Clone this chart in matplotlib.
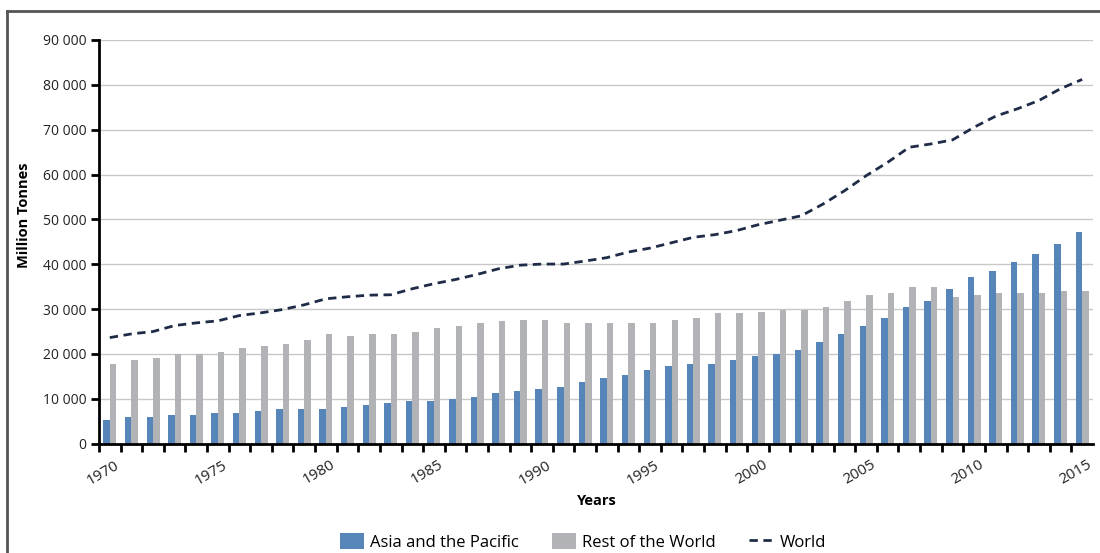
import matplotlib
matplotlib.use("Agg")
import matplotlib.pyplot as plt
from matplotlib.lines import Line2D
import numpy as np

plt.rcParams['font.family'] = ['Open Sans', 'DejaVu Sans']

years = list(range(1970, 2016))

# Asia and the Pacific (million tonnes)
asia = [5370, 5900, 5900, 6350, 6350, 6800, 6800, 7250, 7700, 7700,
        7700, 8140, 8650, 9100, 9480, 9480, 10000, 10450, 11270, 11790,
        12240, 12680, 13650, 14540, 15370, 16330, 17230, 17670, 17670, 18570,
        19460, 20070, 20810, 22680, 24540, 26330, 28050, 30430, 31770, 34540,
        37220, 38570, 40420, 42210, 44450, 47290]

# Rest of the World
rest = [17760, 18650, 19170, 20000, 20000, 20450, 21340, 21790, 22300, 23200,
        24540, 24090, 24540, 24540, 24990, 25880, 26330, 26850, 27290, 27670,
        27670, 26850, 26850, 26850, 26850, 26850, 27670, 28120, 29080, 29080,
        29460, 29910, 29910, 30430, 31770, 33110, 33560, 34990, 34990, 32660,
        33110, 33560, 33560, 33560, 34000, 34000]

# World total
world = [23650, 24470, 25000, 26330, 26930, 27380, 28570, 29170, 29910, 30960,
         32300, 32750, 33110, 33200, 34540, 35660, 36600, 37740, 39000, 39800,
         40040, 40040, 40720, 41470, 42730, 43600, 44800, 46000, 46600, 47500,
         48800, 49800, 50800, 53400, 56380, 59730, 62730, 66080, 66820, 67720,
         70550, 73020, 74650, 76510, 79140, 81200]

blue = '#5685ba'
grey = '#b2b3b6'
navy = '#1f2b47'

fig = plt.figure(figsize=(11, 5.53), dpi=100)
ax = fig.add_axes([0.09, 0.1977, 0.9036, 0.73])

x = np.arange(len(years))
w = 0.3
b1 = ax.bar(x - 0.15, asia, w, color=blue, label='Asia and the Pacific', zorder=2)
b2 = ax.bar(x + 0.15, rest, w, color=grey, label='Rest of the World', zorder=2)
l1, = ax.plot(x, world, color=navy, lw=2, dashes=(3, 2), label='World', zorder=3)

ax.set_xlim(-0.5, len(years) - 0.5)
ax.set_ylim(0, 90000)
yt = range(0, 90001, 10000)
ax.set_yticks(list(yt))
ax.set_yticklabels([('{:,}'.format(v)).replace(',', ' ') for v in yt], fontsize=10, color='#222222')
ax.yaxis.grid(True, color='#c8c8c8', lw=1, zorder=0)
ax.set_axisbelow(True)

# ticks between categories, labels every 5 years
ax.set_xticks(x - 0.5, minor=True)
ax.set_xticks(list(x[::5] + 0.2))
ax.set_xticklabels([str(y) for y in years[::5]], rotation=30, ha='right',
                   rotation_mode='anchor', fontsize=11, color='#222222')
ax.tick_params(axis='x', which='major', length=0, pad=10)
ax.tick_params(axis='x', which='minor', length=6, width=2, color='black')
ax.tick_params(axis='y', length=6, width=2, color='black', pad=3)

for s in ['top', 'right']:
    ax.spines[s].set_visible(False)
ax.spines['left'].set_linewidth(2)
ax.spines['bottom'].set_linewidth(2)

ax.set_ylabel('Million Tonnes', fontsize=10.5, fontweight='bold')
ax.yaxis.set_label_coords(-0.068, 0.567)
ax.set_xlabel('Years', fontsize=10.5, fontweight='bold')
ax.xaxis.set_label_coords(0.501, -0.125)

fig.legend([b1, b2, l1], ['Asia and the Pacific', 'Rest of the World', 'World'],
           loc='center', bbox_to_anchor=(0.53, 0.02), ncol=3, frameon=False,
           fontsize=12, handlelength=1.4, handleheight=1.1, columnspacing=2.0,
           handletextpad=0.4)

# frame around the figure (top and left visible)
fig.add_artist(Line2D([7 / 1100, 7 / 1100], [0, 1 - 11 / 553], transform=fig.transFigure,
                      color='#555555', lw=2))
fig.add_artist(Line2D([7 / 1100, 1], [1 - 11 / 553, 1 - 11 / 553], transform=fig.transFigure,
                      color='#555555', lw=2))

fig.savefig('out.png', dpi=100)
